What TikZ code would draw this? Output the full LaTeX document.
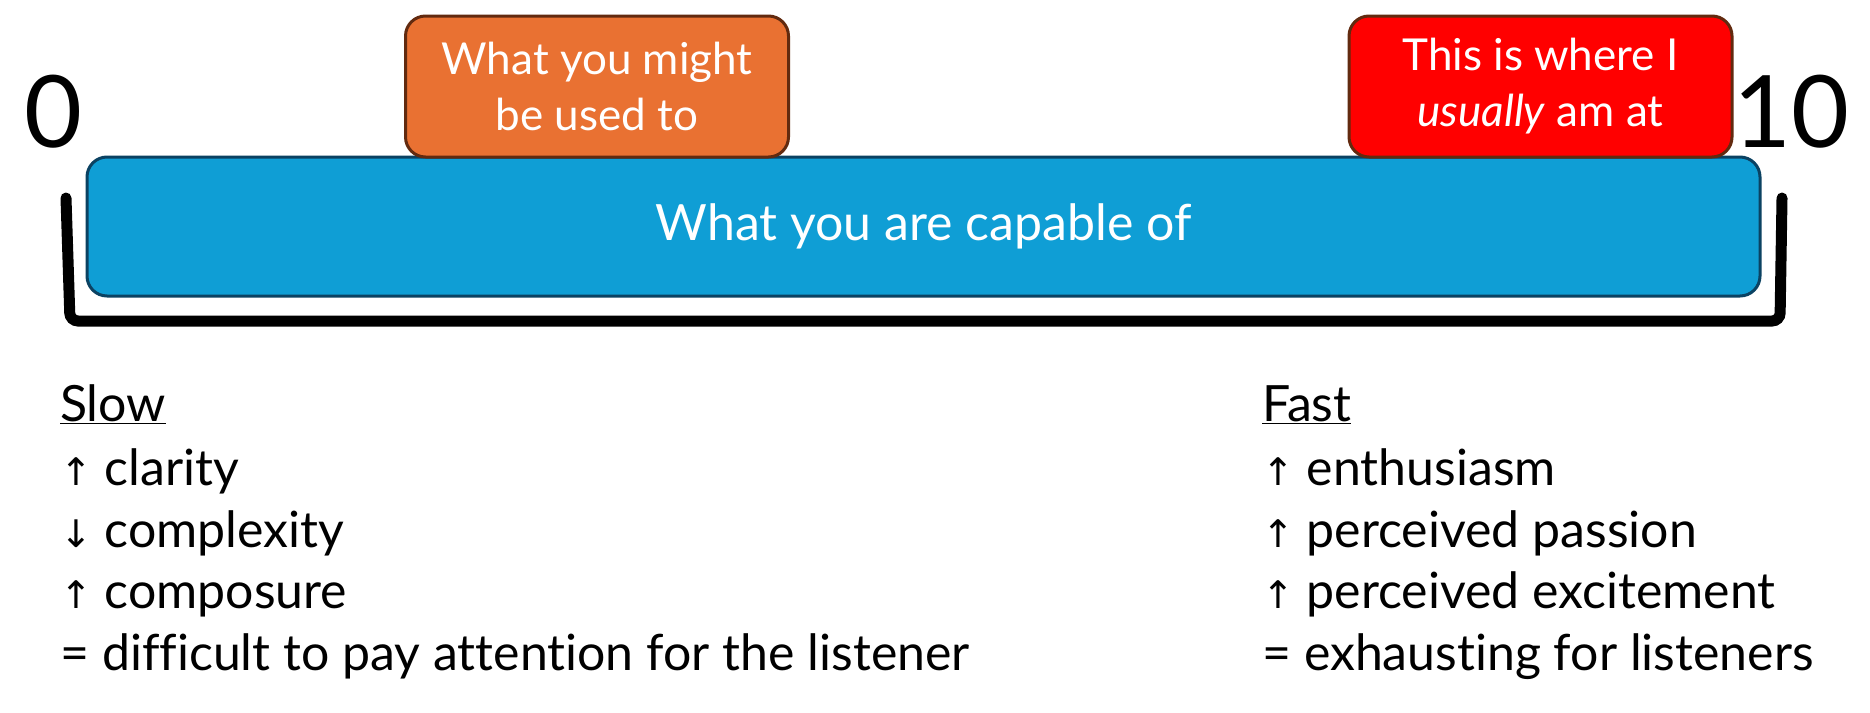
\documentclass[tikz,border=0pt]{standalone}
\usepackage{fontspec}
\setmainfont{Lato}[Ligatures={NoCommon}]
\newfontfamily\arrowfont{DejaVu Sans}
\definecolor{capblue}{HTML}{0F9ED5}
\definecolor{capblueedge}{HTML}{0B4262}
\definecolor{usedorange}{HTML}{E97132}
\definecolor{usualred}{HTML}{FF0000}
\definecolor{boxedge}{HTML}{622A0F}
\tikzset{
  tagbox/.style={draw=boxedge, line width=3pt, rounded corners=20pt,
    minimum width=383pt, minimum height=141pt, text=white, align=center,
    font=\fontsize{44}{56}\selectfont, inner sep=0pt},
  barbox/.style={draw=capblueedge, fill=capblue, line width=3pt, rounded corners=20pt,
    minimum width=1673pt, minimum height=139pt, text=white,
    font=\fontsize{50}{56}\selectfont, inner sep=0pt},
  endnum/.style={font=\fontsize{100}{104}\selectfont, inner sep=0pt},
  listtext/.style={anchor=base west, font=\fontsize{50}{56}\selectfont, inner sep=0pt},
  bracketline/.style={line width=11pt, rounded corners=8pt, line cap=round}
}
\newcommand{\up}{{\arrowfont\fontsize{38}{40}\selectfont ↑}}
\newcommand{\down}{{\arrowfont\fontsize{38}{40}\selectfont ↓}}
\begin{document}
\begin{tikzpicture}[x=1pt,y=-1pt]
\path[use as bounding box, fill=white] (0,0) rectangle (1870,712);
% bracket
\coordinate (bl) at (66,198);
\coordinate (bb1) at (70,321);
\coordinate (bb2) at (1780,321);
\coordinate (br) at (1782,198);
\draw[bracketline] (bl) -- (bb1) -- (bb2) -- (br);
% main bar
\node[barbox] (bar) at (923.5,226.5) {What you are capable of};
% tags
\node[tagbox, fill=usedorange] (used) at (597,86.5) {What you might\\be used to};
\node[tagbox, fill=usualred] (usual) at (1540.5,86.5) {This is where I\\\textit{usually} am at};
% end numbers
\node[endnum] (zero) at (53,112) {0};
\node[endnum] (ten) at (1791,112) {10};
% lists
\node[listtext] (slow) at (60,421) {\underline{Slow}};
\node[listtext] (s1) at (60,485) {\up\ clarity};
\node[listtext] (s2) at (60,547) {\down\ complexity};
\node[listtext] (s3) at (60,608) {\up\ composure};
\node[listtext] (s4) at (60,670) {= difficult to pay attention for the listener};
\node[listtext] (fast) at (1262,421) {\underline{Fast}};
\node[listtext] (f1) at (1262,485) {\up\ enthusiasm};
\node[listtext] (f2) at (1262,547) {\up\ perceived passion};
\node[listtext] (f3) at (1262,608) {\up\ perceived excitement};
\node[listtext] (f4) at (1262,670) {= exhausting for listeners};
\end{tikzpicture}
\end{document}
